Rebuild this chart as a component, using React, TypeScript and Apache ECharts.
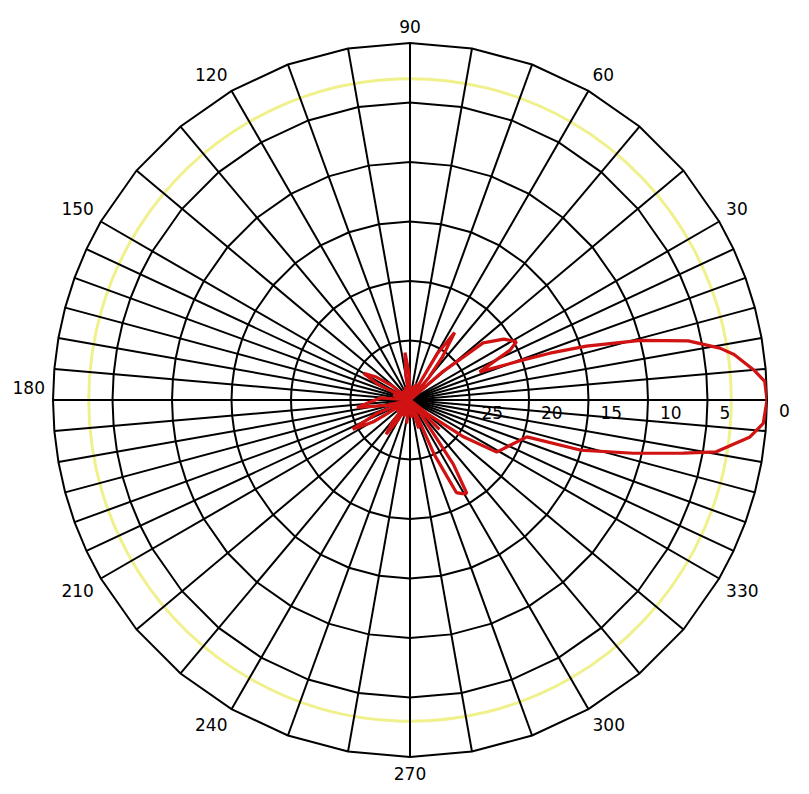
import React, { useEffect, useRef } from 'react';
import * as echarts from 'echarts';

// Angle axis labels (degrees)
const angleTicks = [0, 30, 60, 90, 120, 150, 180, 210, 240, 270, 300, 330];
// Radius rings in dB (center = -30 dB, outer = 0 dB)
const radiusTicks = [-30, -25, -20, -15, -10, -5, 0];
// Grid spokes (degrees): 5° near the horizon, 10° elsewhere
const spokeAngles = [
  0, 5, 10, 15, 20, 25, 30, 40, 50, 60, 70, 80, 90, 100, 110, 120, 130, 140, 150,
  155, 160, 165, 170, 175, 180, 185, 190, 195, 200, 205, 210, 220, 230, 240, 250,
  260, 270, 280, 290, 300, 310, 320, 330, 335, 340, 345, 350, 355,
];
// -3 dB reference circle
const referenceLevel = [-3];

// Radiation pattern: angle (deg) and relative gain (dB)
const patternAngles = [
  0, 3, 5, 8, 9.5, 12, 14.5, 17, 18.5, 19.5, 22, 26.5, 28.7, 33, 38, 41, 45, 50, 53,
  56.5, 59.5, 63, 68, 74, 80, 86, 92, 96, 100, 104, 112, 120, 128, 136, 142, 146, 150,
  154, 158, 164, 170, 176, 182, 188, 193, 198, 202, 207, 211, 216, 222, 228, 232, 235,
  239, 245, 250, 256, 262, 268, 275, 281, 287, 291, 294, 296.6, 299, 301.3, 304, 307.5,
  311, 315, 319, 322, 325.5, 329, 342.5, 343.6, 346.6, 349, 350.4, 353.8, 356.2, 360,
];
const patternGain = [
  0, -0.15, -1.0, -2.5, -3.6, -6.1, -10, -14.5, -17.6, -19.9, -23.7, -20.6, -19.8, -20.6,
  -22.2, -26.5, -30, -27.5, -25.5, -23.2, -25.5, -29.5, -28.5, -30, -28.8, -30, -27.8,
  -26, -28, -30, -28.8, -30, -29, -30, -28, -26.5, -25.5, -27, -30, -28.5, -30, -27.5,
  -26.8, -25.5, -28, -30, -27, -24.6, -26.5, -30, -28.5, -29.5, -27.5, -26.5, -28, -30,
  -28.5, -30, -28, -30, -28.5, -30, -27.5, -30, -25, -21.3, -21, -20.8, -23.5, -28.5,
  -30, -26.5, -30, -28, -24.5, -21.5, -19.7, -15.1, -10.7, -6.6, -3.9, -1.26, -0.25, 0,
];

const FONT = 'DejaVu Sans';

export default function App() {
  const ref = useRef<HTMLDivElement>(null);

  useEffect(() => {
    if (!ref.current) return;
    const chart = echarts.init(ref.current, null, { renderer: 'svg' });
    const rMin = radiusTicks[0];
    const rMax = radiusTicks[radiusTicks.length - 1];

    chart.setOption({
      animation: false,
      backgroundColor: '#ffffff',
      polar: { center: [410, 400], radius: 357 },
      angleAxis: {
        type: 'value',
        min: 0,
        max: 360,
        interval: 30,
        startAngle: 0,
        clockwise: false,
        axisLine: { show: false },
        axisTick: { show: false },
        splitLine: { show: false },
        axisLabel: {
          show: true,
          margin: 8,
          color: '#000',
          fontSize: 17,
          fontFamily: FONT,
          formatter: (v: number) => {
            if (!angleTicks.includes(v)) return '';
            if (v === 0) return '{dn|0}';
            if (v === 180) return '{up|180}';
            return String(v);
          },
          rich: {
            dn: { padding: [22, 0, 0, 4], fontSize: 17, fontFamily: FONT, color: '#000' },
            up: { padding: [0, 0, 24, 0], fontSize: 17, fontFamily: FONT, color: '#000' },
          },
        },
      },
      radiusAxis: {
        type: 'value',
        min: rMin,
        max: rMax,
        interval: 5,
        axisLine: { show: false },
        axisTick: { show: false },
        splitLine: { show: false },
        axisLabel: {
          show: true,
          margin: -13,
          align: 'left',
          verticalAlign: 'middle',
          padding: [0, 0, 0, 12],
          color: '#000',
          fontSize: 17,
          fontFamily: FONT,
          formatter: (v: number) => (v === rMin || v === rMax ? '' : String(-v)),
        },
      },
      series: [
        {
          type: 'custom',
          coordinateSystem: 'polar',
          silent: true,
          z: 1,
          data: referenceLevel.map((v) => [v, 0]),
          renderItem: (params: any, api: any) => {
            const c = api.coord([rMin, 0]);
            const p = api.coord([api.value(0), 0]);
            const r = Math.hypot(p[0] - c[0], p[1] - c[1]);
            return {
              type: 'circle',
              shape: { cx: c[0], cy: c[1], r },
              style: { fill: 'none', stroke: '#f0f08c', lineWidth: 3 },
            };
          },
        },
        {
          type: 'custom',
          coordinateSystem: 'polar',
          silent: true,
          z: 2,
          data: spokeAngles.map((a) => [rMax, a]),
          renderItem: (params: any, api: any) => {
            const a = api.value(1);
            const p0 = api.coord([rMin, a]);
            const p1 = api.coord([rMax, a]);
            return {
              type: 'line',
              shape: { x1: p0[0], y1: p0[1], x2: p1[0], y2: p1[1] },
              style: { stroke: '#000', lineWidth: 2 },
            };
          },
        },
        {
          type: 'custom',
          coordinateSystem: 'polar',
          silent: true,
          z: 2,
          data: radiusTicks.filter((v) => v > rMin).map((v) => [v, 0]),
          renderItem: (params: any, api: any) => {
            const v = api.value(0);
            const points = spokeAngles.map((a) => api.coord([v, a]));
            return {
              type: 'polygon',
              shape: { points },
              style: { fill: 'none', stroke: '#000', lineWidth: 2 },
            };
          },
        },
        {
          type: 'line',
          coordinateSystem: 'polar',
          z: 5,
          symbol: 'none',
          showSymbol: false,
          clip: false,
          lineStyle: { color: '#d01212', width: 3.2 },
          data: patternAngles.map((a, i) => [patternGain[i], a]),
        },
      ],
    });

    return () => chart.dispose();
  }, []);

  return (
    <div
      ref={ref}
      style={{ position: 'fixed', left: 0, top: 0, width: 809, height: 794 }}
    />
  );
}
